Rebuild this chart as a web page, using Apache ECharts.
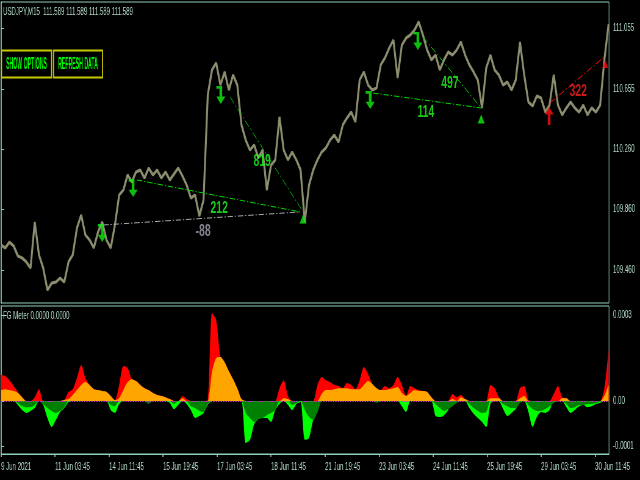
<!DOCTYPE html>
<html><head><meta charset="utf-8">
<script src="https://cdn.jsdelivr.net/npm/echarts@6/dist/echarts.min.js"></script>
<style>
html,body{margin:0;padding:0;background:#000;overflow:hidden;width:640px;height:480px}
#c{width:1049px;height:480px;transform:scaleX(0.61010);transform-origin:0 0}
</style>
</head><body><div id="c"></div>
<script>
// ---- data (M15 bars; one sample every 10 bars) ----
const STEP = 10;
const price = [109.627,109.608,109.647,109.621,109.555,109.542,109.516,109.476,109.779,109.562,
109.476,109.331,109.377,109.384,109.410,109.384,109.516,109.562,109.739,109.825,
109.693,109.660,109.608,109.713,109.779,109.660,109.608,109.759,109.956,109.989,
110.088,110.042,110.108,110.121,110.068,110.134,110.088,110.121,110.068,110.108,
110.055,110.095,110.134,110.081,110.022,109.937,109.956,109.818,109.923,110.614,
110.779,110.825,110.680,110.766,110.647,110.746,110.680,110.417,110.318,110.252,
110.285,110.200,110.252,109.989,110.154,110.187,110.470,110.252,110.187,110.239,
110.187,110.121,109.779,110.022,110.121,110.187,110.239,110.266,110.318,110.351,
110.305,110.417,110.463,110.502,110.437,110.713,110.766,110.680,110.647,110.660,
110.812,110.858,110.923,110.976,110.726,110.943,110.989,111.009,111.042,111.095,
111.009,110.910,110.845,110.877,110.779,110.845,110.897,110.877,110.910,110.963,
110.877,110.812,110.766,110.713,110.529,110.792,110.877,110.779,110.746,110.680,
110.700,110.647,110.713,110.963,110.746,110.568,110.542,110.608,110.595,110.502,
110.548,110.746,110.548,110.483,110.529,110.568,110.529,110.502,110.548,110.483,
110.529,110.502,110.548,110.845,111.081];

// FG Meter, in millionths
const fgRed = [81,78,65,47,28,12,0,0,12,37, 0,0,0,0,0,3,28,37,72,112,
72,50,37,34,31,28,16,3,50,109, 103,68,62,50,40,34,25,19,16,12,
6,0,0,16,6,0,0,0,0,3, 274,252,137,121,93,68,40,6,0,0,
0,0,0,0,0,0,40,65,16,0, 0,0,0,0,0,50,75,65,59,50,
47,40,56,50,37,65,106,84,53,40, 34,47,40,50,75,50,16,47,40,34,
31,28,12,0,0,0,0,22,12,19, 6,0,0,0,0,0,50,40,12,0,
0,0,0,40,47,3,0,0,0,0, 0,22,47,12,9,0,0,0,0,0,
0,0,0,40,159];
const fgOrange = [34,37,34,31,25,12,0,0,0,0, 0,0,0,0,0,3,6,19,34,50,
59,50,37,34,31,28,16,3,9,34, 59,68,62,50,40,34,25,19,16,12,
6,0,0,9,0,0,0,0,0,0, 90,134,137,121,93,68,40,6,0,0,
0,0,0,0,0,0,0,9,6,0, 0,0,0,0,0,0,22,34,34,37,
40,40,40,37,37,37,50,62,53,40, 34,34,37,40,44,25,16,25,34,31,
31,28,12,0,0,0,0,6,0,12, 6,0,0,0,0,0,9,9,9,0,
0,0,0,9,16,0,0,0,0,0, 0,0,0,9,9,0,0,0,0,0,
0,0,0,16,50];
const fgLime = [0,0,0,0,-12,-28,-37,-31,-22,0, -12,-53,-81,-59,-34,-22,-3,0,0,0,
0,0,0,0,0,0,-28,-37,-9,0, 0,0,0,0,0,0,0,0,0,0,
-6,-25,-12,0,-9,-28,-53,-47,-37,-12, 0,0,0,0,0,0,0,0,-131,-121,
-72,-56,-53,-53,-65,-28,-9,0,-12,-28, -9,-3,-121,-115,-59,-34,0,0,0,0,
0,0,0,0,0,0,0,0,0,0, 0,0,0,0,0,-16,-34,0,0,0,
0,0,0,-47,-50,-44,-28,0,0,0, 0,-22,-40,-53,-65,-81,-9,0,0,-25,
-47,-37,-25,0,0,-34,-81,-50,-34,-37, -28,0,0,0,-19,-37,-28,-16,-12,-19,
-16,-9,-6,0,0];
const fgGreen = [0,0,0,0,-6,-16,-19,-19,-12,0, -9,-22,-31,-37,-31,-19,0,0,0,0,
0,0,0,0,0,0,-12,-16,0,0, 0,0,0,0,0,-9,0,0,0,0,
0,-9,0,0,0,-16,-22,-31,-34,-9, 0,0,0,0,0,0,0,0,-37,-53,
-65,-56,-53,-44,-37,-28,0,0,0,-12, -6,0,-28,-50,-59,-34,0,0,0,0,
0,0,0,0,0,0,0,0,0,-6, 0,0,0,0,0,0,0,0,0,0,
0,0,0,-9,-22,-31,-25,-16,-6,0, 0,-9,-22,-31,-37,-34,0,0,0,-9,
-16,-22,-22,-6,0,-12,-25,-31,-31,-25, -16,-6,0,0,-9,-22,-19,-12,-12,-9,
-9,-6,-3,0,0];

// axes
const priceTicks = [109.460, 109.860, 110.260, 110.655, 111.055];
const fgTicks = [-140, 0, 268];
const timeTickBars = [0,128,256,384,512,640,768,896,1024,1152,1280,1408];
const timeLabels = ['9 Jun 2021','11 Jun 03:45','14 Jun 11:45','15 Jun 19:45','17 Jun 03:45','18 Jun 11:45',
  '21 Jun 19:45','23 Jun 03:45','24 Jun 11:45','25 Jun 19:45','29 Jun 03:45','30 Jun 11:45'];

// signals [bar, price]
const sellArrows = [[240,109.706],[313,110.002],[521,110.614],[875,110.581],[988,110.970]];
const greenTips = [[716,109.798],[1138,110.456]];
const buyArrows = [[1299,110.476]];
const redTips = [[1432,110.818]];
const legFrom = [[322,110.055],[242,109.759],[543,110.601],[882,110.627],[1000,110.996],[1301,110.562]];
const legTo   = [[709,109.845],[709,109.845],[713,109.858],[1138,110.529],[1138,110.529],[1429,110.864]];
const legText = ['212','-88','819','114','497','322'];
const legTextAt = [[517,109.871],[479,109.720],[619,110.180],[1007,110.502],[1064,110.693],[1368,110.641]];
const legKind = ['g','x','g','g','g','r'];

// ---- chart ----
// the page is a horizontally squeezed MT4 screenshot: the chart is laid out wider and squeezed by CSS
const SX = 640 / 1049;
const X = v => v / SX;            // screen px -> inner px (horizontal only)
const FG = '#b4dcc8', FRAME = '#8fd0b8';
const FONT = '"Liberation Sans", Arial, sans-serif';
const kindColor = {g:'#00dd00', x:'#a8a8b4', r:'#ff1010'};
const kindText = {g:'#22ff22', x:'#a8a8b8', r:'#ff2020'};
const downPath = 'path://M0,0 L6.5,0 L6.5,10 L10,10 L5,17 L0,10 L3.5,10 L3.5,2.5 L0,2.5 Z';
const upPath = 'path://M5,0 L10,7 L6.5,7 L6.5,17 L3.5,17 L3.5,7 L0,7 Z';

const xMax = 1441;
const series = [];
series.push({type:'line', xAxisIndex:0, yAxisIndex:0, data: price.map((p,i)=>[i*STEP,p]),
  showSymbol:false, symbol:'none', lineStyle:{color:'#8c8c6e', width:3.2, join:'bevel'}, z:2, silent:true});
legFrom.forEach((f,i)=>{
  series.push({type:'line', xAxisIndex:0, yAxisIndex:0, data:[f, legTo[i]], symbol:'none', silent:true, z:3,
    lineStyle:{color:kindColor[legKind[i]], width:1, type:[9,3,2,3]}});
});
series.push({type:'scatter', xAxisIndex:0, yAxisIndex:0, symbolSize:0, z:6, silent:true,
  data: legTextAt.map((p,i)=>({value:p, label:{show:true, position:'inside', formatter:legText[i],
    color:kindText[legKind[i]], fontFamily:FONT, fontWeight:'bold', fontSize:17}}))});
series.push({type:'scatter', xAxisIndex:0, yAxisIndex:0, symbol:downPath, symbolSize:[X(9),18],
  itemStyle:{color:'#11ee11'}, data:sellArrows, z:5, silent:true});
series.push({type:'scatter', xAxisIndex:0, yAxisIndex:0, symbol:'triangle', symbolSize:[X(7),9],
  itemStyle:{color:'#11ee11'}, data:greenTips, z:5, silent:true});
series.push({type:'scatter', xAxisIndex:0, yAxisIndex:0, symbol:upPath, symbolSize:[X(9),18],
  itemStyle:{color:'#ff1010'}, data:buyArrows, z:5, silent:true});
series.push({type:'scatter', xAxisIndex:0, yAxisIndex:0, symbol:'triangle', symbolSize:[X(6),8],
  itemStyle:{color:'#ff1010'}, data:redTips, z:5, silent:true});

function area(arr, color, z){
  return {type:'line', xAxisIndex:1, yAxisIndex:1, data: arr.map((v,i)=>[i*STEP,v]), symbol:'none',
    lineStyle:{width:0}, areaStyle:{color:color, opacity:1}, z:z, silent:true, smooth:0.25};
}
series.push(area(fgRed,'#ff0000',2));
series.push(area(fgOrange,'#ffa500',3));
series.push(area(fgLime,'#00ff00',2));
series.push(area(fgGreen,'#008000',3));
series.push({type:'line', xAxisIndex:1, yAxisIndex:1, data:[], z:10, silent:true,
  markLine:{silent:true, symbol:['none','none'], label:{show:false},
    lineStyle:{color:'#d040d0', type:[2,2], width:1}, data:[{yAxis:0}]}});

const option = {
  backgroundColor:'#000',
  animation:false,
  textStyle:{fontFamily:FONT},
  grid:[
    {left:X(1), top:2, width:X(608), height:301, show:true, borderColor:FRAME, borderWidth:1, backgroundColor:'#000', outerBoundsMode:'none'},
    {left:X(1), top:306, width:X(608), height:148, show:true, borderColor:FRAME, borderWidth:1, backgroundColor:'#000', outerBoundsMode:'none'}
  ],
  xAxis:[
    {type:'value', gridIndex:0, min:0, max:xMax, show:false},
    {type:'value', gridIndex:1, min:0, max:xMax, position:'bottom',
      axisLine:{show:true, onZero:false, lineStyle:{color:FRAME}},
      axisTick:{show:true, customValues:timeTickBars, length:3, lineStyle:{color:FRAME, width:1.6}},
      splitLine:{show:false},
      axisLabel:{customValues:timeTickBars, align:'left', margin:8, color:FG, fontFamily:FONT, fontSize:10,
        formatter:(v)=>timeLabels[timeTickBars.indexOf(Math.round(v))] || ''}}
  ],
  yAxis:[
    {type:'value', gridIndex:0, min:109.246, max:111.226, position:'right', scale:true,
      axisLine:{show:true, lineStyle:{color:FRAME, width:1.6}},
      axisTick:{show:true, customValues:priceTicks, length:X(3), lineStyle:{color:FRAME}},
      splitLine:{show:false},
      axisLabel:{customValues:priceTicks, margin:X(4), color:FG, fontFamily:FONT, fontSize:10,
        formatter:(v)=>v.toFixed(3)}},
    {type:'value', gridIndex:1, min:-165, max:296, position:'right',
      axisLine:{show:true, lineStyle:{color:FRAME, width:1.6}},
      axisTick:{show:true, customValues:fgTicks, length:X(3), lineStyle:{color:FRAME}},
      splitLine:{show:false},
      axisLabel:{customValues:fgTicks, margin:X(4), color:FG, fontFamily:FONT, fontSize:10,
        formatter:(v)=> v===0 ? '0.00' : (v*1e-6).toFixed(4)}}
  ],
  graphic:[
    {type:'text', x:X(3), y:7, z:20, silent:true,
      style:{text:'USDJPY,M15  111.589 111.589 111.589 111.589', fill:FG, font:'10px '+FONT}},
    {type:'text', x:X(3), y:311, z:20, silent:true,
      style:{text:'FG Meter 0.0000 0.0000', fill:FG, font:'10px '+FONT}},
    {type:'rect', shape:{x:X(1.5), y:50.5, width:X(50), height:27}, z:20, silent:true,
      style:{fill:'#000', stroke:'#c8c800', lineWidth:1.8}},
    {type:'rect', shape:{x:X(53.5), y:50.5, width:X(49), height:27}, z:20, silent:true,
      style:{fill:'#000', stroke:'#c8c800', lineWidth:1.8}},
    {type:'text', x:X(26.5), y:64.5, scaleX:0.5, z:21, silent:true,
      style:{text:'SHOW OPTIONS', fill:'#00ff00', font:'bold 17px '+FONT, align:'center', verticalAlign:'middle'}},
    {type:'text', x:X(78), y:64.5, scaleX:0.5, z:21, silent:true,
      style:{text:'REFRESH DATA', fill:'#00ff00', font:'bold 17px '+FONT, align:'center', verticalAlign:'middle'}}
  ],
  series: series
};
const chart = echarts.init(document.getElementById('c'), null, {renderer:'canvas'});
chart.setOption(option);
</script></body></html>
